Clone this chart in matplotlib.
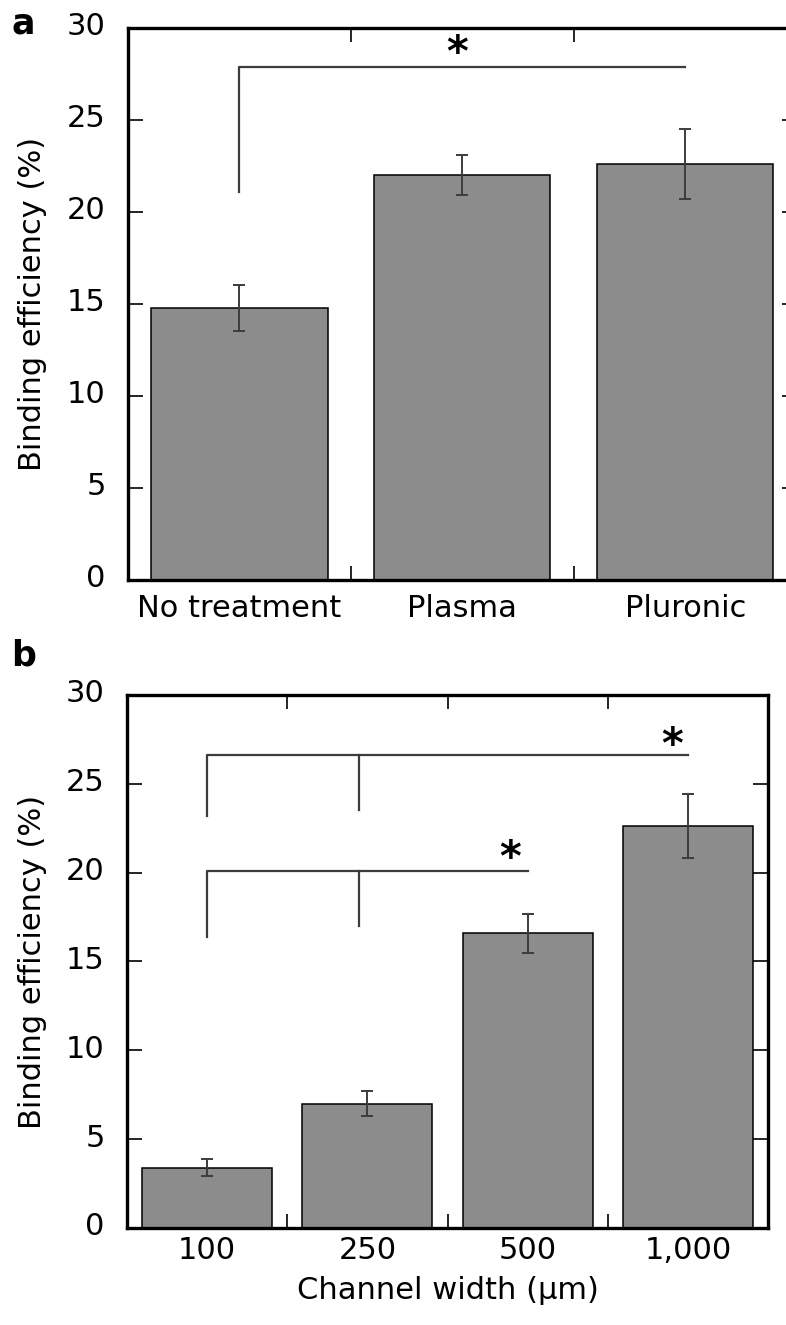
import matplotlib.pyplot as plt
from matplotlib.transforms import ScaledTranslation
import numpy as np

plt.rcParams['font.family'] = ['DejaVu Sans']

# Panel a: surface treatment
treat_labels = ['No treatment', 'Plasma', 'Pluronic']
treat_eff = [14.8, 22.0, 22.6]
treat_err = [1.25, 1.1, 1.9]

# Panel b: channel width
width_labels = ['100', '250', '500', '1,000']
width_eff = [3.4, 7.0, 16.6, 22.6]
width_err = [0.5, 0.7, 1.1, 1.8]

bar_color = '#8c8c8c'
line_col = '#3c3c3c'
FS = 22


def style_axes(ax, n, xpad):
    x = np.arange(n)
    ax.set_xlim(-0.5, n - 0.5)
    ax.set_ylim(0, 30)
    ax.set_yticks([0, 5, 10, 15, 20, 25, 30])
    ax.set_xticks(x)
    ax.set_xticks(x[:-1] + 0.5, minor=True)
    ax.tick_params(axis='y', which='major', direction='in', length=11, width=1.2,
                   right=True, labelsize=FS, pad=16)
    ax.tick_params(axis='x', which='major', length=0, labelsize=FS, pad=xpad)
    ax.tick_params(axis='x', which='minor', direction='in', length=10, width=1.2,
                   top=True, bottom=True)
    for s in ax.spines.values():
        s.set_linewidth(2.4)
    # tick labels sit a little above their ticks in the original
    shift = ScaledTranslation(0, 3 / 72, fig.dpi_scale_trans)
    for lab in ax.get_yticklabels():
        lab.set_transform(lab.get_transform() + shift)


fig = plt.figure(figsize=(7.86, 13.25), dpi=100)

# ---------------- panel a ----------------
ax1 = fig.add_axes([0.1628, 0.5623, 0.851, 0.4166])
x1 = np.arange(len(treat_labels))
ax1.bar(x1, treat_eff, width=0.79, color=bar_color, edgecolor='black', linewidth=1.1, zorder=2)
ax1.errorbar(x1, treat_eff, yerr=treat_err, fmt='none', ecolor=line_col, elinewidth=1.4,
             capsize=4.5, capthick=1.4, zorder=3)
style_axes(ax1, len(treat_labels), 10)
ax1.set_xticklabels(treat_labels)
ax1.set_ylabel('Binding efficiency (%)', fontsize=FS)
ax1.yaxis.set_label_coords(-0.121, 0.5)

# significance bracket
ax1.plot([0, 0, 2], [21.1, 27.9, 27.9], color=line_col, lw=1.6)
ax1.text(0.975, 28.6, '*', fontsize=30, fontweight='bold', ha='center', va='center')

# ---------------- panel b ----------------
ax2 = fig.add_axes([0.1616, 0.0732, 0.8155, 0.4023])
x2 = np.arange(len(width_labels))
ax2.bar(x2, width_eff, width=0.81, color=bar_color, edgecolor='black', linewidth=1.1, zorder=2)
ax2.errorbar(x2, width_eff, yerr=width_err, fmt='none', ecolor=line_col, elinewidth=1.4,
             capsize=4.5, capthick=1.4, zorder=3)
style_axes(ax2, len(width_labels), 6)
ax2.set_xticklabels(width_labels)
ax2.set_ylabel('Binding efficiency (%)', fontsize=FS)
ax2.yaxis.set_label_coords(-0.125, 0.5)
ax2.set_xlabel('Channel width (\u03bcm)', fontsize=FS)
ax2.xaxis.set_label_coords(0.5, -0.09)

# brackets
ax2.plot([0, 0, 3], [23.2, 26.6, 26.6], color=line_col, lw=1.6)
ax2.plot([0.95, 0.95], [26.6, 23.5], color=line_col, lw=1.6)
ax2.text(2.9, 27.15, '*', fontsize=30, fontweight='bold', ha='center', va='center')

ax2.plot([0, 0, 2], [16.4, 20.1, 20.1], color=line_col, lw=1.6)
ax2.plot([0.95, 0.95], [20.1, 17.0], color=line_col, lw=1.6)
ax2.text(1.89, 20.75, '*', fontsize=30, fontweight='bold', ha='center', va='center')

# panel letters
fig.text(0.014, 1 - 24 / 1325, 'a', fontsize=25, fontweight='bold', va='center')
fig.text(0.014, 1 - 655 / 1325, 'b', fontsize=25, fontweight='bold', va='center')

fig.savefig('out.png', dpi=100)
